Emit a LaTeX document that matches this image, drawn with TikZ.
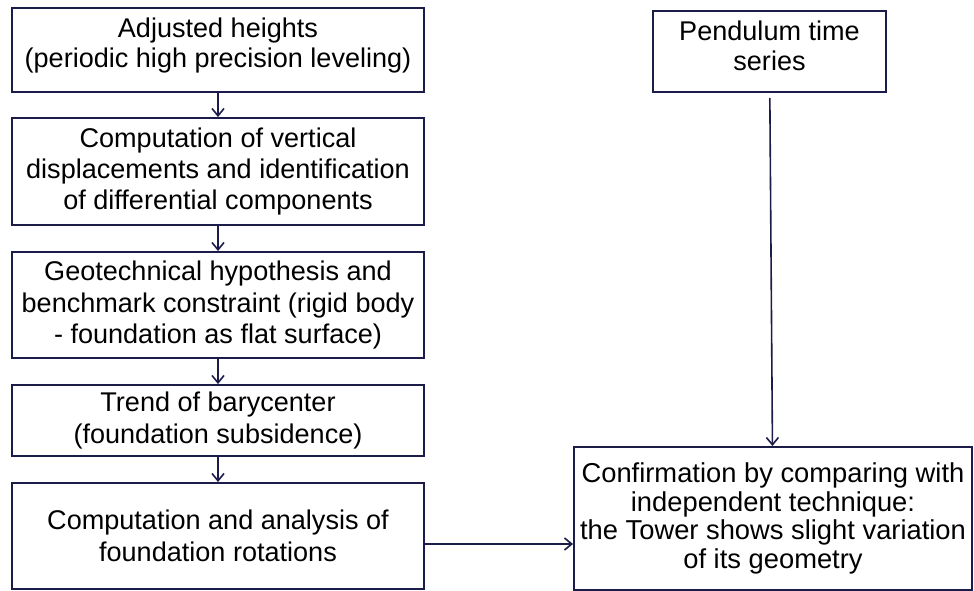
\documentclass[tikz,border=0pt]{standalone}
\usepackage{fontspec}
\setmainfont{Liberation Sans}
\usetikzlibrary{arrows.meta}
\definecolor{navy}{HTML}{1C1C4A}
\begin{document}
\begin{tikzpicture}[x=0.75pt,y=-0.75pt,
  box/.style={draw=navy, line width=1.4pt, align=center, inner sep=0pt, text=black,
    font=\fontsize{20.3}{23.6}\selectfont},
  conn/.style={draw=navy, line width=1.2pt, -{Straight Barb[length=5.5pt,width=9pt,line width=1.2pt]}}]
\useasboundingbox (0,0) rectangle (974,591);
\node[box, minimum width=309pt, minimum height=63pt, text depth=11pt, font=\fontsize{20.3}{22.5}\selectfont] (b1) at (218,50)
  {Adjusted heights\\(periodic high precision leveling)};
\node[box, minimum width=309pt, minimum height=80.25pt] (b2) at (218,171.5)
  {Computation of vertical\\displacements and identification\\of differential components};
\node[box, minimum width=309pt, minimum height=79.5pt] (b3) at (218,305)
  {Geotechnical hypothesis and\\benchmark constraint (rigid body\\- foundation as flat surface)};
\node[box, minimum width=309pt, minimum height=53.25pt] (b4) at (218,420.5)
  {Trend of barycenter\\(foundation subsidence)};
\node[box, minimum width=309pt, minimum height=79.5pt] (b5) at (218,536)
  {Computation and analysis of\\foundation rotations};
\node[box, minimum width=174.75pt, minimum height=60.75pt, text depth=8.5pt, font=\fontsize{20.3}{22.5}\selectfont] (p) at (769.5,51.5)
  {Pendulum time\\series};
\node[box, minimum width=298.5pt, minimum height=107.25pt, font=\fontsize{20.5}{21.4}\selectfont] (c) at (773,518.5)
  {Confirmation by comparing with\\independent technique:\\the Tower shows slight variation\\of its geometry};
\draw[conn] (b1) -- (b2);
\draw[conn] (b2) -- (b3);
\draw[conn] (b3) -- (b4);
\draw[conn] (b4) -- (b5);
\draw[conn, shorten <=3.75pt] (p) -- (c);
\draw[conn] ([yshift=-6pt]b5.east) -- ([yshift=-6pt]b5.east -| c.west);
\end{tikzpicture}
\end{document}
